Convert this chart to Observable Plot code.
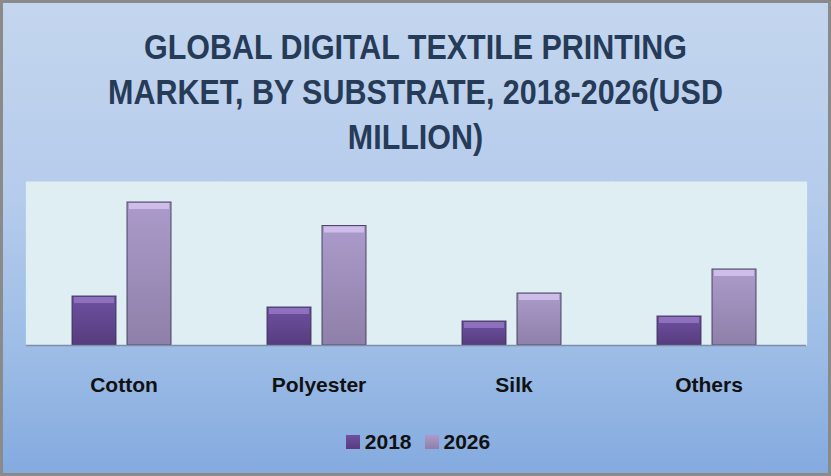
<!DOCTYPE html>
<html>
<head>
<meta charset="utf-8">
<script src="https://cdn.jsdelivr.net/npm/d3@7"></script>
<script src="https://cdn.jsdelivr.net/npm/@observablehq/plot@0.6"></script>
<style>
  html, body { margin: 0; padding: 0; background: #ffffff; }
  #card {
    position: relative;
    width: 831px; height: 476px;
    box-sizing: border-box;
    border: 3px solid #8a8a8a;
    background: linear-gradient(to bottom, #c4d6ee 0%, #b6ccec 40%, #9cbce6 75%, #84aade 100%);
    overflow: hidden;
    font-family: "Liberation Sans", Arial, sans-serif;
  }
  #title {
    position: absolute; left: 0; right: 0; top: 21px;
    text-align: center;
    font-family: "Liberation Sans", Arial, sans-serif;
    font-weight: bold; font-size: 35px; line-height: 45px;
    color: #263b58;
    transform: scaleX(0.87);
    transform-origin: 50% 0;
  }
  #chart { position: absolute; left: 0; top: 160px; }
  #legend {
    position: absolute; left: 18px; right: 0; top: 422px;
    display: flex; justify-content: center;
  }
  #legend span { margin-right: 13px !important; }
  #legend span > svg { margin-right: 5px !important; }
</style>
</head>
<body>
<div id="card">
  <div id="title">GLOBAL DIGITAL TEXTILE PRINTING<br>MARKET, BY SUBSTRATE, 2018-2026(USD<br>MILLION)</div>
  <div id="chart"></div>
  <div id="legend"></div>
</div>
<script>
// Data (USD million)
const categories = ["Cotton", "Polyester", "Silk", "Others"];
const years = ["2018", "2026"];
const values2018 = [490, 380, 240, 290];
const values2026 = [1430, 1195, 520, 760];

const data = [];
categories.forEach((c, i) => {
  data.push({cat: c, year: years[0], value: values2018[i]});
  data.push({cat: c, year: years[1], value: values2026[i]});
});

const fills = ["url(#g2018)", "url(#g2026)"];

const plot = Plot.plot({
  width: 825,
  height: 245,
  marginLeft: 22,
  marginRight: 21,
  marginTop: 18,
  marginBottom: 63,
  style: {background: "transparent", overflow: "visible"},
  fx: {domain: categories, padding: 0, label: null},
  x: {domain: years, paddingInner: 0.196, paddingOuter: 0.844, align: 0.48, axis: null},
  y: {domain: [0, 1640], axis: null},
  color: {domain: years, range: fills},
  marks: [
    Plot.frame({fill: "#deeef2", stroke: null, insetLeft: -0.6, insetRight: -0.6}),
    Plot.barY(data, {
      fx: "cat", x: "year", y: "value", fill: "year",
      stroke: "#3a2f52", strokeWidth: 1, strokeOpacity: 0.85
    }),
    Plot.tickY(data, {
      filter: d => d.year === "2018",
      fx: "cat", x: "year", y: "value",
      stroke: "#8e70bd", strokeWidth: 6, dy: 3.5, insetLeft: 2, insetRight: 2
    }),
    Plot.tickY(data, {
      filter: d => d.year === "2026",
      fx: "cat", x: "year", y: "value",
      stroke: "#cdbde8", strokeWidth: 6, dy: 3.5, insetLeft: 2, insetRight: 2
    }),
    Plot.ruleY([0], {stroke: "#7f8ea8", strokeWidth: 1.5}),
    Plot.axisFx({
      anchor: "bottom", tickSize: 0, tickPadding: 32, label: null,
      fontSize: 21, fontWeight: "bold", fill: "#111111",
      fontFamily: "Liberation Sans, Arial, sans-serif"
    })
  ]
});

d3.select(plot).insert("defs", ":first-child").html(`
  <linearGradient id="g2018" x1="0" y1="0" x2="0" y2="1">
    <stop offset="0" stop-color="#6f51a1"/>
    <stop offset="1" stop-color="#563c7e"/>
  </linearGradient>
  <linearGradient id="g2026" x1="0" y1="0" x2="0" y2="1">
    <stop offset="0" stop-color="#ab9bcb"/>
    <stop offset="1" stop-color="#8e80a8"/>
  </linearGradient>
`);

document.getElementById("chart").appendChild(plot);

const legend = plot.legend("color", {
  swatchSize: 14,
  style: {
    fontFamily: "Liberation Sans, Arial, sans-serif",
    fontSize: "21px",
    fontWeight: "bold",
    color: "#111111",
    background: "transparent"
  }
});
document.getElementById("legend").appendChild(legend);
</script>
</body>
</html>
